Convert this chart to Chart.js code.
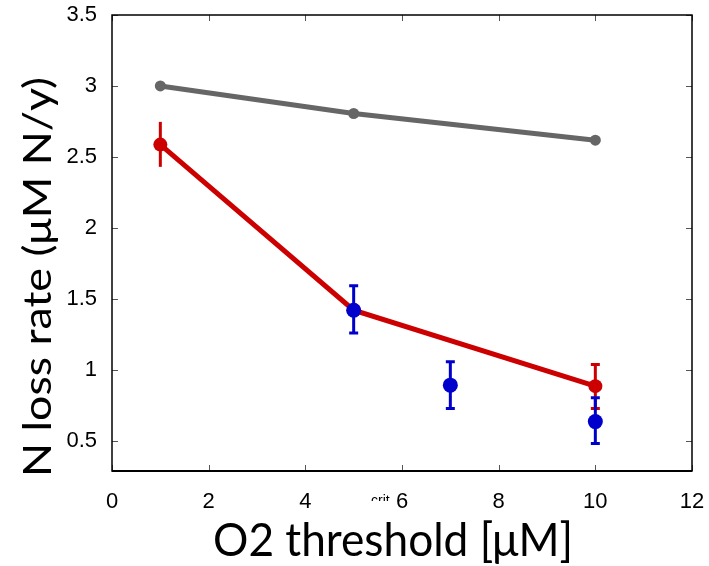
<!DOCTYPE html>
<html>
<head>
<meta charset="utf-8">
<script src="https://cdn.jsdelivr.net/npm/chart.js@4/dist/chart.umd.min.js"></script>
<style>
  html, body { margin: 0; padding: 0; background: #fff; }
  #wrap { width: 709px; height: 566px; position: relative; }
</style>
</head>
<body>
<div id="wrap"><canvas id="lossChart"></canvas></div>
<script>
// ---- data ----
const xTicks = [0, 2, 4, 6, 8, 10, 12];
const yTicks = [0.5, 1, 1.5, 2, 2.5, 3, 3.5];

const grayX = [1, 5, 10];
const grayY = [3.0, 2.806, 2.618];

const redX = [1, 5, 10];
const redY = [2.587, 1.42, 0.885];
const redLow = [2.43, null, 0.728];
const redHigh = [2.747, null, 1.038];

const blueX = [5, 7, 10];
const blueY = [1.42, 0.892, 0.635];
const blueLow = [1.26, 0.728, 0.48];
const blueHigh = [1.592, 1.056, 0.804];

const yTitle = 'N loss rate (\u03bcM N/y)';
const xTitle = 'O2 threshold [\u03bcM]';

function pts(xs, ys) {
  return xs.map((x, i) => ({ x: x, y: ys[i] }));
}

// error bars drawn per dataset, right after that dataset's own marks
const errorBars = {
  id: 'errorBars',
  afterDatasetDraw(chart, args) {
    const ds = chart.data.datasets[args.index];
    if (!ds.errLow) return;
    const ctx = chart.ctx;
    const xs = chart.scales.x, ys = chart.scales.y;
    ctx.save();
    ctx.strokeStyle = ds.borderColor;
    ctx.lineWidth = 3;
    ds.data.forEach((p, i) => {
      if (ds.errLow[i] == null) return;
      const px = xs.getPixelForValue(p.x);
      const lo = ys.getPixelForValue(ds.errLow[i]);
      const hi = ys.getPixelForValue(ds.errHigh[i]);
      ctx.beginPath();
      ctx.moveTo(px, lo);
      ctx.lineTo(px, hi);
      if (ds.errCaps[i]) {
        ctx.moveTo(px - 4.5, lo); ctx.lineTo(px + 4.5, lo);
        ctx.moveTo(px - 4.5, hi); ctx.lineTo(px + 4.5, hi);
      }
      ctx.stroke();
    });
    ctx.restore();
  }
};

function fitText(ctx, text, font, targetW) {
  ctx.font = font;
  const w = ctx.measureText(text).width;
  return targetW / w;
}

// box with inward ticks, axis titles, clipped "crit" label
const frame = {
  id: 'frame',
  afterDraw(chart) {
    const ctx = chart.ctx;
    const a = chart.chartArea;
    const xs = chart.scales.x, ys = chart.scales.y;
    ctx.save();
    ctx.strokeStyle = '#555';
    ctx.lineWidth = 1;
    ctx.beginPath();
    xTicks.forEach(v => {
      const px = Math.round(xs.getPixelForValue(v)) + 0.5;
      ctx.moveTo(px, a.bottom); ctx.lineTo(px, a.bottom - 6);
      ctx.moveTo(px, a.top); ctx.lineTo(px, a.top + 6);
    });
    yTicks.forEach(v => {
      const py = Math.round(ys.getPixelForValue(v)) + 0.5;
      ctx.moveTo(a.left, py); ctx.lineTo(a.left + 6, py);
      ctx.moveTo(a.right, py); ctx.lineTo(a.right - 6, py);
    });
    ctx.stroke();

    ctx.strokeStyle = '#000';
    ctx.lineWidth = 1.5;
    ctx.strokeRect(a.left, a.top, a.right - a.left, a.bottom - a.top);
    ctx.lineWidth = 2;
    ctx.beginPath();
    ctx.moveTo(a.left, a.bottom); ctx.lineTo(a.right, a.bottom);
    ctx.stroke();

    // small clipped subscript under the axis
    ctx.save();
    ctx.beginPath();
    ctx.rect(360, 480, 40, 21);
    ctx.clip();
    ctx.fillStyle = '#000';
    ctx.font = '14px "Liberation Sans", Arial, sans-serif';
    ctx.textAlign = 'left';
    ctx.textBaseline = 'alphabetic';
    ctx.fillText('crit', 371, 505);
    ctx.restore();

    // axis titles
    ctx.fillStyle = '#000';
    ctx.textAlign = 'center';
    ctx.textBaseline = 'middle';
    const yFont = '39px Lato, "Open Sans", sans-serif';
    const sy = fitText(ctx, yTitle, yFont, 400);
    ctx.save();
    ctx.translate(38, 277);
    ctx.rotate(-Math.PI / 2);
    ctx.scale(sy, 1);
    ctx.font = yFont;
    ctx.fillText(yTitle, 0, 0);
    ctx.restore();

    const xFont = '46px Lato, "Open Sans", sans-serif';
    const sx = fitText(ctx, xTitle, xFont, 360);
    ctx.save();
    ctx.translate(393, 541);
    ctx.scale(sx, 1);
    ctx.font = xFont;
    ctx.fillText(xTitle, 0, 0);
    ctx.restore();

    ctx.restore();
  }
};

const tickFont = { family: '"Liberation Sans", Arial, sans-serif', size: 22, lineHeight: 1 };
const plainLabel = v => String(v);

new Chart(document.getElementById('lossChart'), {
  type: 'line',
  data: {
    datasets: [
      {
        data: pts(blueX, blueY),
        showLine: false,
        borderColor: '#0000cc',
        backgroundColor: '#0000cc',
        pointRadius: 7.5,
        pointHoverRadius: 7.5,
        pointBorderWidth: 0,
        errLow: blueLow,
        errHigh: blueHigh,
        errCaps: [true, true, true],
        order: 0
      },
      {
        data: pts(redX, redY),
        borderColor: '#cc0000',
        backgroundColor: '#cc0000',
        borderWidth: 5,
        tension: 0,
        pointRadius: 7,
        pointHoverRadius: 7,
        pointBorderWidth: 0,
        errLow: redLow,
        errHigh: redHigh,
        errCaps: [false, true, true],
        order: 1
      },
      {
        data: pts(grayX, grayY),
        borderColor: '#666666',
        backgroundColor: '#666666',
        borderWidth: 5,
        tension: 0,
        pointRadius: 5.5,
        pointHoverRadius: 5.5,
        pointBorderWidth: 0,
        order: 2
      }
    ]
  },
  options: {
    responsive: true,
    maintainAspectRatio: false,
    animation: false,
    layout: { padding: { left: 0, top: 15, right: 17, bottom: 0 } },
    plugins: { legend: { display: false }, tooltip: { enabled: false } },
    scales: {
      x: {
        type: 'linear',
        min: 0,
        max: 12,
        grid: { display: false },
        border: { display: false },
        afterBuildTicks: s => { s.ticks = xTicks.map(v => ({ value: v })); },
        afterFit: s => { s.height = 95; s.paddingLeft = 0; s.paddingRight = 0; },
        ticks: { font: tickFont, color: '#000', padding: 12, maxRotation: 0, callback: plainLabel }
      },
      y: {
        type: 'linear',
        min: 0.287,
        max: 3.5,
        grid: { display: false },
        border: { display: false },
        afterBuildTicks: s => { s.ticks = yTicks.map(v => ({ value: v })); },
        afterFit: s => { s.width = 112; s.paddingTop = 0; s.paddingBottom = 0; },
        ticks: { font: tickFont, color: '#000', padding: 7, callback: plainLabel }
      }
    }
  },
  plugins: [errorBars, frame]
});
</script>
</body>
</html>
